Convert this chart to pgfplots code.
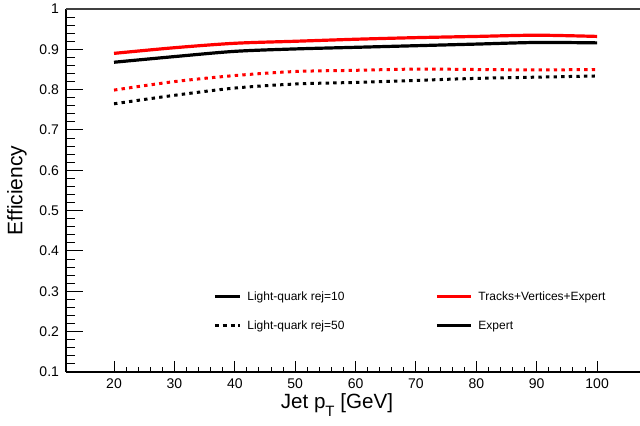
\documentclass[border=0pt]{standalone}
\usepackage{fontspec}
\setmainfont{Liberation Sans}
\usepackage{pgfplots}
\pgfplotsset{compat=1.18}
\definecolor{rootred}{RGB}{255,0,0}
\pgfplotsset{
  shortleg/.style={legend image code/.code={\draw[##1] (0pt,0pt) -- (12.5pt,0pt);}},
  longleg/.style={legend image code/.code={\draw[##1] (0pt,0pt) -- (17pt,0pt);}},
}
\begin{document}
\begin{tikzpicture}
\begin{axis}[
  name=ax,
  scale only axis, width=287pt, height=181.5pt,
  xmin=12.05, xmax=107.1, ymin=0.1, ymax=1,
  separate axis lines,
  axis x line*=bottom, axis y line*=left,
  axis line style={-, line width=1pt, black},
  xtick={20,30,40,50,60,70,80,90,100},
  ytick={0.1,0.2,0.3,0.4,0.5,0.6,0.7,0.8,0.9,1},
  minor x tick num=4, minor y tick num=4,
  tick align=inside,
  xtick pos=bottom, ytick pos=left,
  major tick length=8.5pt, minor tick length=4.5pt,
  tick style={black, line width=0.5pt},
  xtick style={/pgfplots/major tick length=5.5pt, /pgfplots/minor tick length=2.7pt},
  /pgf/number format/assume math mode=true,
  ticklabel style={font=\fontsize{7}{8}\selectfont},
  every axis x label/.style={at={(axis description cs:0.472,0)}, anchor=center, yshift=-16.5pt, font=\fontsize{10.3}{12}\selectfont},
  every axis y label/.style={at={(axis description cs:-0.0854,0.5)}, rotate=90, anchor=center, font=\fontsize{10.5}{12}\selectfont},
  xlabel={Jet p\raisebox{-0.7ex}{\fontsize{7.5}{8}\selectfont T} [GeV]},
  ylabel={Efficiency},
  legend columns=2,
  legend cell align=left,
  legend style={draw=none, fill=none, inner sep=0pt, at={(0.2561,0.2212)}, anchor=north west,
    font=\fontsize{6}{7}\selectfont,
    nodes={inner sep=0pt, text height=4.3pt, text depth=0pt},
    column sep=0pt, row sep=10.2pt,
    /tikz/every odd column/.append style={column sep=3pt},
    /tikz/every even column/.append style={column sep=45.5pt}},
]
\addlegendimage{black, line width=1.5pt, shortleg}
\addlegendentry{Light-quark rej=10}
\addlegendimage{rootred, line width=1.5pt, longleg}
\addlegendentry{Tracks+Vertices+Expert}
\addlegendimage{black, line width=1.5pt, dash pattern=on 2pt off 1.9pt, shortleg}
\addlegendentry{Light-quark rej=50}
\addlegendimage{black, line width=1.5pt, longleg}
\addlegendentry{Expert}

\addplot[forget plot, rootred, line width=1.6pt, smooth] coordinates {
(20,0.890) (30,0.904) (40,0.915) (50,0.920) (60,0.925) (70,0.929) (80,0.932) (90,0.935) (100,0.932)};
\addplot[forget plot, black, line width=1.6pt, smooth] coordinates {
(20,0.868) (30,0.882) (40,0.895) (50,0.901) (60,0.905) (70,0.909) (80,0.913) (90,0.917) (100,0.916)};
\addplot[forget plot, rootred, line width=1.5pt, dash pattern=on 1.7pt off 2.1pt, smooth] coordinates {
(20,0.799) (30,0.820) (40,0.835) (50,0.845) (60,0.848) (70,0.851) (80,0.850) (90,0.849) (100,0.850)};
\addplot[forget plot, black, line width=1.5pt, dash pattern=on 1.7pt off 2.1pt, smooth] coordinates {
(20,0.765) (30,0.786) (40,0.804) (50,0.814) (60,0.818) (70,0.823) (80,0.828) (90,0.831) (100,0.834)};
\end{axis}
\draw[black!75, line width=0.6pt] (ax.north west) -- (ax.north east);
\pgfresetboundingbox
\path[use as bounding box] ([shift={(-33pt,-27pt)}]ax.south west) rectangle ([shift={(0pt,4.5pt)}]ax.north east);
\end{tikzpicture}
\end{document}
